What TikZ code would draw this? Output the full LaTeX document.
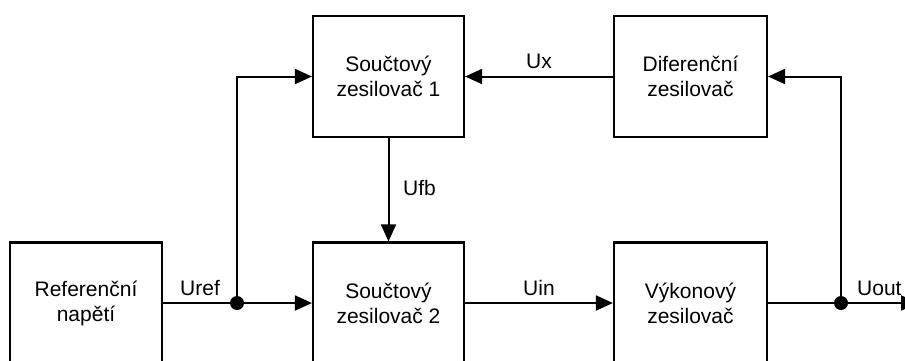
\documentclass[tikz,border=0pt]{standalone}
\usepackage{fontspec}
\setmainfont{Liberation Sans}
\usetikzlibrary{arrows.meta}
\begin{document}
\begin{tikzpicture}[x=1pt,y=-1pt,
  blk/.style={draw,line width=2.2pt,minimum width=151pt,minimum height=121pt,
    align=center,font=\fontsize{21}{25}\selectfont,inner sep=0pt},
  lbl/.style={font=\fontsize{21}{25}\selectfont,inner sep=0pt,anchor=base west},
  wire/.style={line width=2pt},
  arr/.style={wire,-{Triangle[length=17pt,width=15pt]}},
  dot/.style={circle,fill=black,inner sep=0pt,minimum size=14pt}]
\useasboundingbox (0,0) rectangle (905,360);
\clip (0,0) rectangle (905,360);
\node[blk,minimum width=152pt] (ref) at (86,303) {Referenční\\napětí};
\node[blk] (s2) at (388.5,303) {Součtový\\zesilovač 2};
\node[blk,minimum width=153pt] (vyk) at (690.5,303) {Výkonový\\zesilovač};
\node[blk] (s1) at (388.5,76.5) {Součtový\\zesilovač 1};
\node[blk,minimum width=153pt] (dif) at (690.5,76.5) {Diferenční\\zesilovač};
\node[dot] (j1) at (237,303) {};
\node[dot] (j2) at (841,303) {};
\coordinate (out) at (918,303);
\draw[wire] (ref.east) -- (j1.center);
\draw[arr] (j1.center) -- (s2.west);
\draw[arr] (j1.center) |- (s1.west);
\draw[arr] (s1.south) -- (s2.north);
\draw[arr] (s2.east) -- (vyk.west);
\draw[wire] (vyk.east) -- (j2.center);
\draw[arr] (j2.center) -- (out);
\draw[arr] (j2.center) |- (dif.east);
\draw[arr] (dif.west) -- (s1.east);
\node[lbl] (luref) at (180,295) {Uref};
\node[lbl] (luin) at (523,295) {Uin};
\node[lbl] (luout) at (857,295) {Uout};
\node[lbl] (lux) at (526,68) {Ux};
\node[lbl] (lufb) at (403,195) {Ufb};
\end{tikzpicture}
\end{document}
